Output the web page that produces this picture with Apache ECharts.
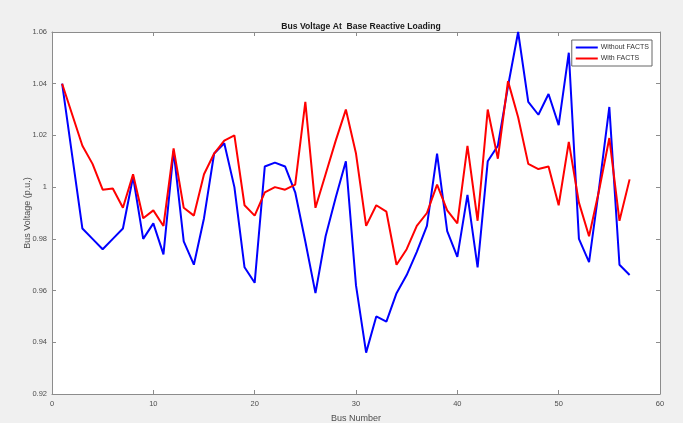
<!DOCTYPE html>
<html>
<head>
<meta charset="utf-8">
<script src="https://cdn.jsdelivr.net/npm/echarts@6/dist/echarts.min.js"></script>
<style>
  html, body { margin: 0; padding: 0; background: #f0f0f0; }
  #chart { width: 683px; height: 423px; }
</style>
</head>
<body>
<div id="chart"></div>
<script>
const busNumbers = Array.from({ length: 57 }, (_, i) => i + 1)

const withoutFacts = [
  1.040, 1.012, 0.984, 0.980, 0.976, 0.980, 0.984, 1.004, 0.980, 0.986,
  0.974, 1.014, 0.979, 0.970, 0.988, 1.013, 1.017, 1.000, 0.969, 0.963,
  1.008, 1.0095, 1.008, 0.998, 0.979, 0.959, 0.981, 0.996, 1.010, 0.962,
  0.936, 0.950, 0.948, 0.959, 0.966, 0.975, 0.985, 1.013, 0.983, 0.973,
  0.997, 0.969, 1.010, 1.016, 1.039, 1.060, 1.033, 1.028, 1.036, 1.024,
  1.052, 0.980, 0.971, 1.000, 1.031, 0.970, 0.966
]

const withFacts = [
  1.040, 1.028, 1.016, 1.009, 0.999, 0.9995, 0.992, 1.005, 0.988, 0.991,
  0.985, 1.015, 0.992, 0.989, 1.005, 1.013, 1.018, 1.020, 0.993, 0.989,
  0.998, 1.000, 0.999, 1.001, 1.033, 0.992, 1.005, 1.018, 1.030, 1.013,
  0.985, 0.993, 0.9905, 0.970, 0.976, 0.985, 0.990, 1.001, 0.991, 0.986,
  1.016, 0.987, 1.030, 1.011, 1.041, 1.027, 1.009, 1.007, 1.008, 0.993,
  1.0175, 0.994, 0.981, 0.999, 1.019, 0.987, 1.003
]

const xTicks = { min: 0, max: 60, interval: 10 }
const yTicks = { min: 0.92, max: 1.06, interval: 0.02 }

const myChart = echarts.init(document.getElementById('chart'))

const axisColor = '#8c8c8c'
const labelColor = '#4d4d4d'
const font = 'Liberation Sans, Arial, sans-serif'

// extra axes only to close the box with inward ticks (top / right)
const boxAxis = (pos) => ({
  type: 'value',
  position: pos,
  axisLine: { show: true, onZero: false, lineStyle: { color: axisColor, width: 1 } },
  axisTick: { show: true, inside: true, length: 4, lineStyle: { color: axisColor } },
  axisLabel: { show: false },
  splitLine: { show: false }
})

const option = {
  backgroundColor: '#f0f0f0',
  animation: false,
  title: {
    text: 'Bus Voltage At  Base Reactive Loading',
    left: 356,
    textAlign: 'center',
    top: 17,
    textStyle: { fontFamily: font, fontSize: 8.6, fontWeight: 'bold', color: '#1a1a1a' }
  },
  legend: {
    orient: 'vertical',
    right: 31,
    top: 40,
    itemWidth: 22,
    itemHeight: 2,
    itemGap: 4,
    padding: [4, 3, 4, 4],
    backgroundColor: '#ffffff',
    borderColor: '#666666',
    borderWidth: 1,
    borderRadius: 0,
    icon: 'rect',
    textStyle: { fontFamily: font, fontSize: 7, color: '#333333', padding: [0, 0, 0, -2] },
    data: ['Without FACTS', 'With FACTS']
  },
  grid: {
    left: 52,
    right: 23,
    top: 32,
    bottom: 29,
    outerBoundsMode: 'none',
    show: true,
    backgroundColor: '#ffffff',
    borderWidth: 0
  },
  xAxis: [
    {
      type: 'value',
      min: xTicks.min,
      max: xTicks.max,
      interval: xTicks.interval,
      name: 'Bus Number',
      nameLocation: 'middle',
      nameGap: 20,
      nameMoveOverlap: false,
      nameTextStyle: { fontFamily: font, fontSize: 9, color: labelColor },
      axisLine: { show: true, onZero: false, lineStyle: { color: axisColor, width: 1 } },
      axisTick: { show: true, inside: true, length: 4, lineStyle: { color: axisColor } },
      axisLabel: { fontFamily: font, fontSize: 7.5, color: labelColor, margin: 6 },
      splitLine: { show: false }
    },
    Object.assign(boxAxis('top'), { min: xTicks.min, max: xTicks.max, interval: xTicks.interval })
  ],
  yAxis: [
    {
      type: 'value',
      min: yTicks.min,
      max: yTicks.max,
      interval: yTicks.interval,
      name: 'Bus Voltage (p.u.)',
      nameLocation: 'middle',
      nameGap: 20,
      nameMoveOverlap: false,
      nameTextStyle: { fontFamily: font, fontSize: 9, color: labelColor },
      axisLine: { show: true, onZero: false, lineStyle: { color: axisColor, width: 1 } },
      axisTick: { show: true, inside: true, length: 4, lineStyle: { color: axisColor } },
      axisLabel: {
        fontFamily: font,
        fontSize: 7.5,
        color: labelColor,
        margin: 5,
        formatter: (v) => (Math.abs(v - 1) < 1e-9 ? '1' : v.toFixed(2))
      },
      splitLine: { show: false }
    },
    Object.assign(boxAxis('right'), { min: yTicks.min, max: yTicks.max, interval: yTicks.interval })
  ],
  series: [
    {
      name: 'Without FACTS',
      type: 'line',
      data: busNumbers.map((b, i) => [b, withoutFacts[i]]),
      symbol: 'none',
      lineStyle: { color: '#0000ff', width: 2 },
      itemStyle: { color: '#0000ff' }
    },
    {
      name: 'With FACTS',
      type: 'line',
      data: busNumbers.map((b, i) => [b, withFacts[i]]),
      symbol: 'none',
      lineStyle: { color: '#ff0000', width: 2 },
      itemStyle: { color: '#ff0000' }
    }
  ]
}

myChart.setOption(option)
</script>
</body>
</html>
